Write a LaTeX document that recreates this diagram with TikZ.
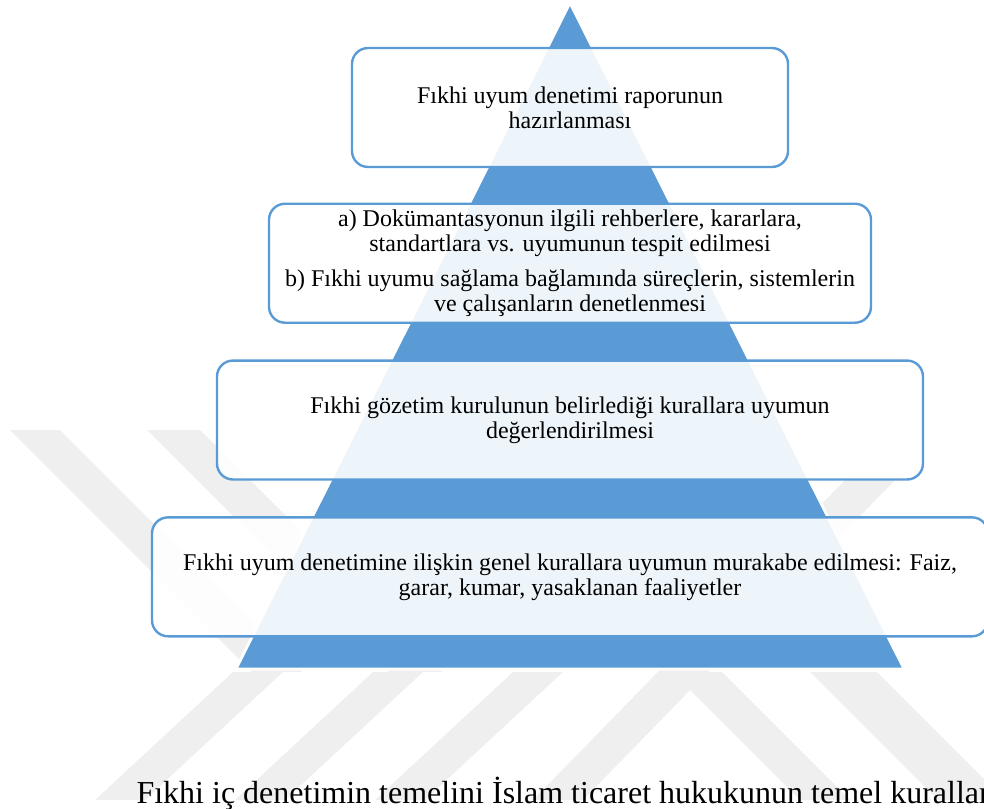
\documentclass[tikz,border=0pt]{standalone}
\usepackage{fontspec}
\setmainfont{Liberation Serif}
\usetikzlibrary{positioning}
\definecolor{pyrblue}{RGB}{91,155,213}
\definecolor{wmgray}{RGB}{239,239,239}
\tikzset{
  tierbox/.style={draw=pyrblue, line width=0.9pt, rounded corners=6pt, fill=white,
                  fill opacity=0.9, text opacity=1, align=center, minimum height=44.6pt,
                  font=\fontsize{9}{9.4}\selectfont, inner sep=2pt, outer sep=0pt},
  pyramid/.style={fill=pyrblue, draw=white, line width=1pt},
  wmband/.style={fill=wmgray},
  bodyline/.style={font=\fontsize{12}{14}\selectfont, inner sep=0pt, anchor=base west},
}

\begin{document}
\begin{tikzpicture}[x=0.375pt, y=-0.375pt]
\useasboundingbox (0,0) rectangle (984,809);
\clip (0,0) rectangle (984,809);

% ============================ watermark =============================
\fill[wmband] (10,430) -- (60,430) -- (302,672) -- (252,672) -- cycle;
\fill[wmband] (147,430) -- (200,430) -- (442,672) -- (389,672) -- cycle;
\fill[wmband] (95,800) -- (145,800) -- (283,672) -- (233,672) -- cycle;
\fill[wmband] (235,800) -- (285,800) -- (423,672) -- (373,672) -- cycle;
\fill[wmband] (375,800) -- (425,800) -- (563,672) -- (513,672) -- cycle;
\fill[wmband] (533,800) -- (583,800) -- (900,475) -- (850,475) -- cycle;
\fill[wmband] (672,672) -- (722,672) -- (850,800) -- (800,800) -- cycle;
\fill[wmband] (810,672) -- (877,672) -- (1005,800) -- (938,800) -- cycle;

% ============================ pyramid =============================
\coordinate (apex) at (570,3);
\coordinate (baseL) at (236,669);
\coordinate (baseR) at (904,669);
\filldraw[pyramid] (apex) -- (baseL) -- (baseR) -- cycle;

% ============================ tiers ================================
\node[tierbox, minimum width=163.5pt] (report) at (570,107.5)
  {Fıkhi uyum denetimi raporunun\\hazırlanması};
\node[tierbox, minimum width=225.75pt, below=13.8pt of report] (docs)
  {a) Dokümantasyonun ilgili rehberlere, kararlara,\\standartlara vs. uyumunun tespit edilmesi\\[3.4pt]
   b) Fıkhi uyumu sağlama bağlamında süreçlerin, sistemlerin\\ve çalışanların denetlenmesi};
\node[tierbox, minimum width=264.75pt, below=14.2pt of docs] (board)
  {Fıkhi gözetim kurulunun belirlediği kurallara uyumun\\değerlendirilmesi};
\node[tierbox, minimum width=313.5pt, below=14.2pt of board] (general)
  {Fıkhi uyum denetimine ilişkin genel kurallara uyumun murakabe edilmesi: Faiz,\\garar, kumar, yasaklanan faaliyetler};

% body text running under the figure
\node[bodyline] (body) at (136,803)
  {Fıkhi iç denetimin temelini İslam ticaret hukukunun temel kuralları};

\end{tikzpicture}
\end{document}
